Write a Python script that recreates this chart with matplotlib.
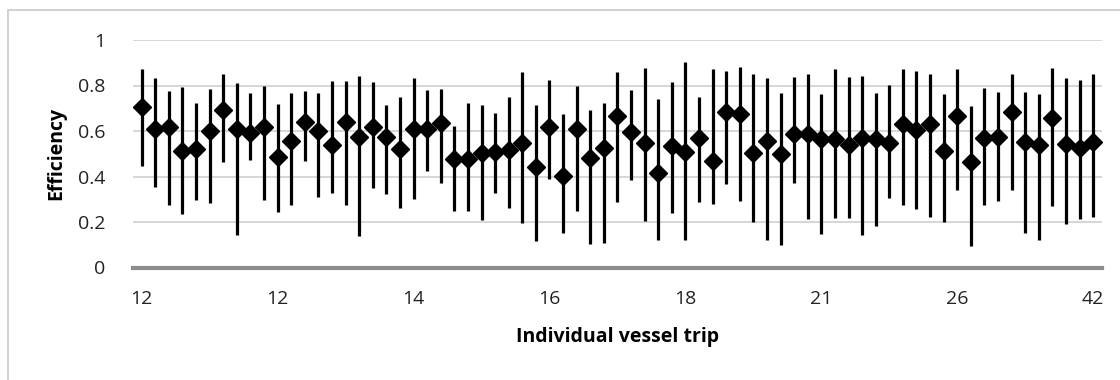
import matplotlib
matplotlib.use("Agg")
import matplotlib.pyplot as plt
from matplotlib.patches import Rectangle
import numpy as np

efficiency = [0.704, 0.607, 0.619, 0.514, 0.522, 0.601, 0.692, 0.607, 0.590, 0.619,
              0.484, 0.558, 0.638, 0.600, 0.538, 0.641, 0.572, 0.616, 0.575, 0.522,
              0.609, 0.609, 0.634, 0.475, 0.475, 0.505, 0.509, 0.516, 0.549, 0.443,
              0.619, 0.402, 0.609, 0.483, 0.524, 0.666, 0.597, 0.546, 0.414, 0.534,
              0.509, 0.568, 0.470, 0.682, 0.675, 0.505, 0.558, 0.499, 0.587, 0.585,
              0.565, 0.565, 0.538, 0.568, 0.563, 0.549, 0.631, 0.604, 0.631, 0.514,
              0.666, 0.462, 0.568, 0.575, 0.685, 0.550, 0.538, 0.656, 0.543, 0.527,
              0.550]
upper = [0.871, 0.832, 0.776, 0.792, 0.722, 0.786, 0.849, 0.810, 0.769, 0.798,
         0.717, 0.769, 0.776, 0.769, 0.820, 0.820, 0.842, 0.814, 0.714, 0.751,
         0.835, 0.779, 0.785, 0.623, 0.722, 0.714, 0.681, 0.751, 0.861, 0.714,
         0.824, 0.673, 0.798, 0.692, 0.722, 0.861, 0.780, 0.875, 0.739, 0.814,
         0.905, 0.751, 0.871, 0.865, 0.883, 0.849, 0.832, 0.769, 0.836, 0.849,
         0.763, 0.871, 0.836, 0.842, 0.769, 0.802, 0.871, 0.865, 0.849, 0.763,
         0.871, 0.710, 0.790, 0.773, 0.849, 0.773, 0.763, 0.875, 0.832, 0.824,
         0.849]
lower = [0.448, 0.355, 0.275, 0.235, 0.297, 0.282, 0.465, 0.143, 0.473, 0.297,
         0.245, 0.275, 0.470, 0.309, 0.326, 0.275, 0.139, 0.351, 0.323, 0.260,
         0.300, 0.426, 0.370, 0.248, 0.248, 0.209, 0.329, 0.260, 0.197, 0.117,
         0.388, 0.150, 0.248, 0.103, 0.109, 0.286, 0.385, 0.206, 0.121, 0.241,
         0.121, 0.286, 0.278, 0.367, 0.292, 0.201, 0.121, 0.099, 0.373, 0.213,
         0.146, 0.219, 0.219, 0.143, 0.184, 0.304, 0.275, 0.257, 0.224, 0.201,
         0.341, 0.096, 0.275, 0.292, 0.341, 0.150, 0.121, 0.270, 0.191, 0.213,
         0.224]
tick_labels = ["12", "12", "14", "16", "18", "21", "26", "42"]
tick_every = 10

font = ["Open Sans", "DejaVu Sans"]
plt.rcParams["font.family"] = font

eff = np.array(efficiency)
up = np.array(upper)
lo = np.array(lower)
x = np.arange(len(eff))

fig = plt.figure(figsize=(11.2, 3.8), dpi=100)
ax = fig.add_axes([133 / 1120, 1 - 267.5 / 380, (1102 - 133) / 1120, (267.5 - 40) / 380])

ax.errorbar(x, eff, yerr=[eff - lo, up - eff], fmt="none", ecolor="black",
            elinewidth=2.3, capsize=0, zorder=3)
ax.plot(x, eff, linestyle="none", marker="D", markersize=9.5, color="black", zorder=4)

ax.set_ylim(0, 1)
ax.set_xlim(-0.64, len(eff) - 1 + 0.65)
ax.set_yticks([0, 0.2, 0.4, 0.6, 0.8, 1])
ax.set_yticklabels(["0", "0.2", "0.4", "0.6", "0.8", "1"])
ax.set_xticks(x[::tick_every])
ax.set_xticklabels(tick_labels)
ax.grid(axis="y", color="#d0d0d0", linewidth=1.2, zorder=0)
ax.set_axisbelow(True)
for s in ["top", "right", "left"]:
    ax.spines[s].set_visible(False)
ax.spines["bottom"].set_color("#8c8c8c")
ax.spines["bottom"].set_linewidth(3)
ax.tick_params(axis="both", length=0, labelsize=14, colors="#222222")
ax.tick_params(axis="y", pad=20)
ax.tick_params(axis="x", pad=16)

ax.set_ylabel("Efficiency", fontsize=14, fontweight="bold", labelpad=8)
ax.set_xlabel("Individual vessel trip", fontsize=14, fontweight="bold", labelpad=14)

fig.patches.append(Rectangle((8 / 1120, -0.1), 1.2, (380 - 10) / 380 + 0.1,
                             transform=fig.transFigure, fill=False,
                             edgecolor="#c8c8c8", linewidth=1.2))

fig.savefig("out.png", dpi=100)
